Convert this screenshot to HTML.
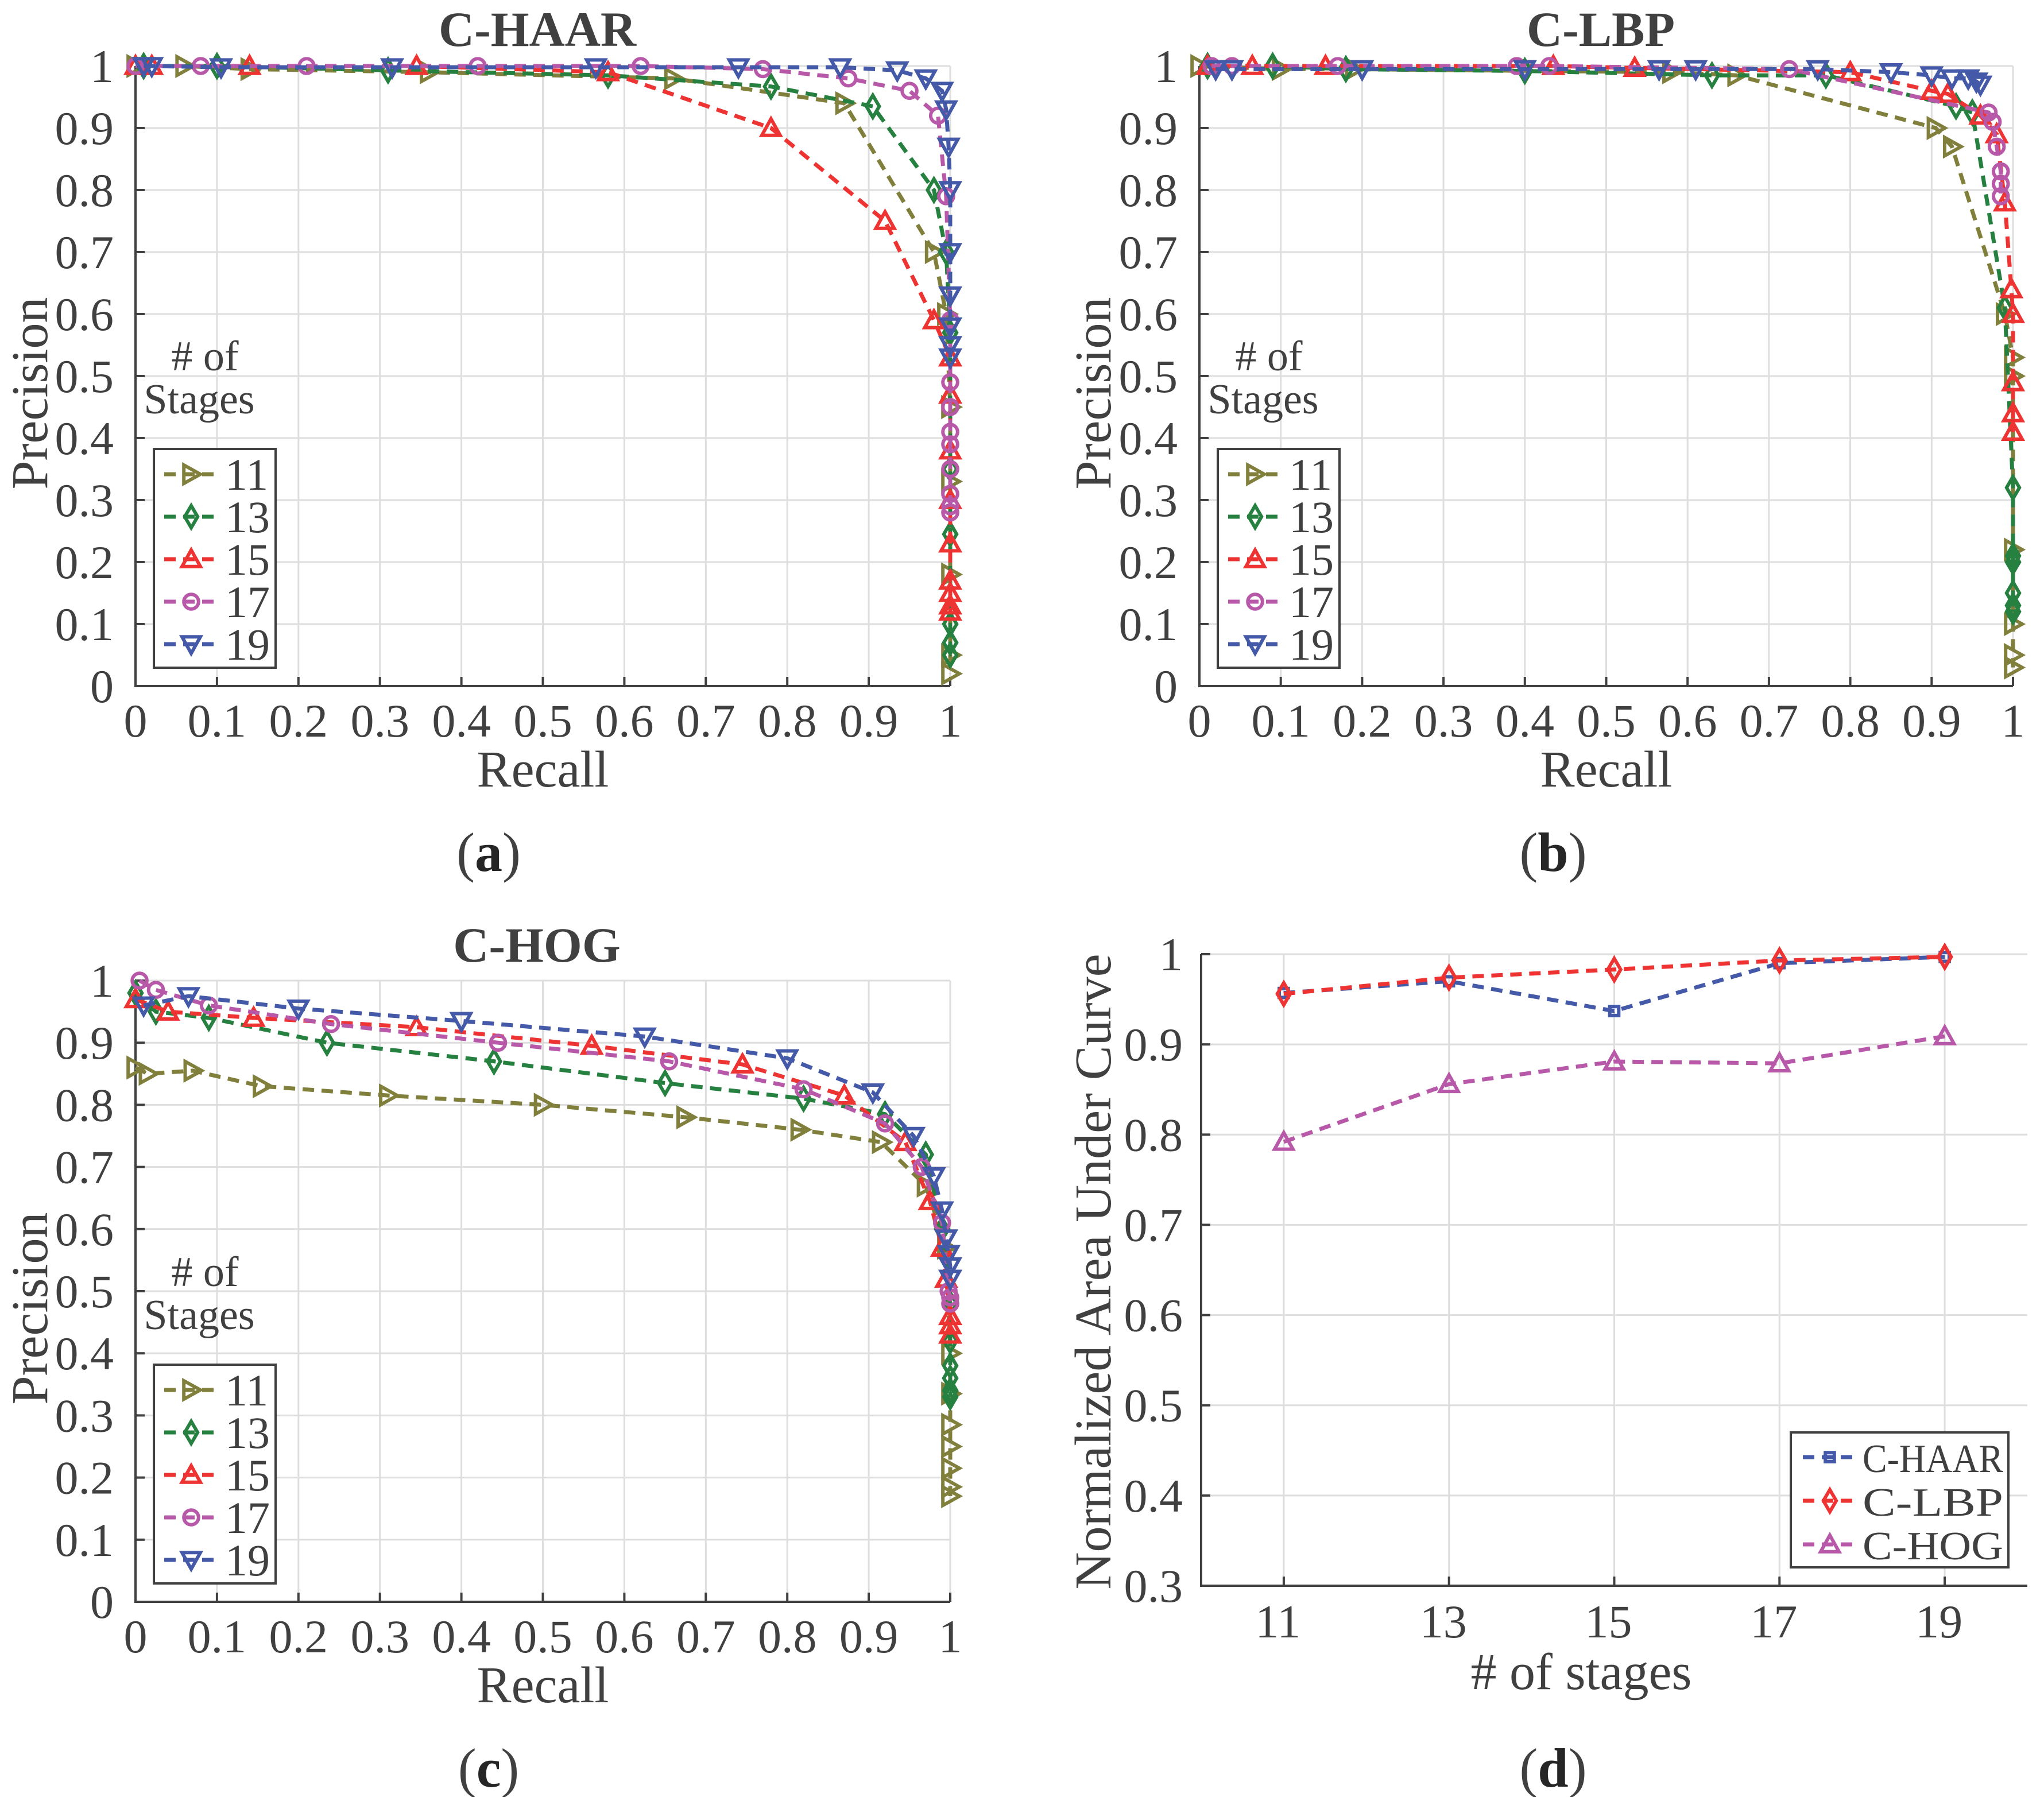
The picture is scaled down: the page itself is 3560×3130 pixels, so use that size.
<!DOCTYPE html>
<html><head><meta charset="utf-8"><style>
html,body{margin:0;padding:0;background:#fff}
svg{display:block;font-family:"Liberation Serif","Noto Serif CJK SC",serif}
svg text{font-family:"Liberation Serif","Noto Serif CJK SC",serif;fill:#404040}
</style></head><body>
<svg id="fig" xmlns="http://www.w3.org/2000/svg" width="3560" height="3130" viewBox="0 0 3560 3130"></svg>
<script>
// ---------- data ----------
const seriesNames = ["11","13","15","17","19"];
const haar11 = [[0,1],[0.06,1],[0.14,0.995],[0.36,0.99],[0.66,0.98],[0.87,0.94],[0.98,0.70],[0.995,0.6],[1,0.45],[1,0.33],[1,0.18],[1,0.05],[1,0.02]];
const haar13 = [[0.01,1],[0.1,1],[0.31,0.993],[0.58,0.985],[0.78,0.967],[0.905,0.935],[0.98,0.80],[0.995,0.70],[1,0.57],[1,0.35],[1,0.245],[1,0.1],[1,0.07],[1,0.05]];
const haar15 = [[0,1],[0.02,1],[0.14,1],[0.345,1],[0.58,0.99],[0.78,0.90],[0.92,0.75],[0.98,0.59],[1,0.53],[1,0.47],[1,0.38],[1,0.3],[1,0.23],[1,0.17],[1,0.15],[1,0.13],[1,0.12]];
const haar17 = [[0,1],[0.08,1],[0.21,1],[0.42,1],[0.62,1],[0.77,0.995],[0.875,0.98],[0.95,0.96],[0.985,0.92],[0.995,0.79],[1,0.59],[1,0.49],[1,0.45],[1,0.41],[1,0.39],[1,0.35],[1,0.31],[1,0.29],[1,0.28]];
const haar19 = [[0.01,1],[0.02,1],[0.105,0.998],[0.315,0.998],[0.565,0.998],[0.74,0.998],[0.865,0.998],[0.935,0.993],[0.97,0.98],[0.99,0.96],[0.995,0.93],[0.998,0.87],[1,0.80],[1,0.70],[1,0.63],[1,0.58],[1,0.55],[1,0.53]];
const lbp11 = [[0,1],[0.1,0.995],[0.19,0.995],[0.58,0.99],[0.66,0.985],[0.905,0.90],[0.925,0.87],[0.99,0.6],[1,0.53],[1,0.5],[1,0.22],[1,0.1],[1,0.05],[1,0.03]];
const lbp13 = [[0.01,1],[0.09,1],[0.18,0.995],[0.4,0.992],[0.63,0.985],[0.77,0.985],[0.93,0.935],[0.95,0.925],[0.99,0.61],[1,0.32],[1,0.21],[1,0.2],[1,0.15],[1,0.13],[1,0.12]];
const lbp15 = [[0.01,1],[0.065,1],[0.155,1],[0.435,1],[0.535,0.997],[0.8,0.99],[0.9,0.96],[0.92,0.955],[0.96,0.92],[0.98,0.89],[0.99,0.78],[0.998,0.64],[1,0.6],[1,0.49],[1,0.44],[1,0.41]];
const lbp17 = [[0.015,1],[0.04,1],[0.17,1],[0.39,1],[0.43,1],[0.725,0.995],[0.97,0.925],[0.975,0.91],[0.98,0.87],[0.985,0.83],[0.985,0.81],[0.985,0.79]];
const lbp19 = [[0.02,0.995],[0.04,0.995],[0.2,0.995],[0.4,0.995],[0.565,0.995],[0.61,0.995],[0.76,0.995],[0.85,0.99],[0.9,0.985],[0.925,0.98],[0.945,0.98],[0.955,0.975],[0.96,0.97]];
const hog11 = [[0,0.86],[0.015,0.85],[0.07,0.855],[0.155,0.83],[0.31,0.815],[0.5,0.80],[0.675,0.78],[0.815,0.76],[0.915,0.74],[0.97,0.67],[0.995,0.57],[1,0.40],[1,0.335],[1,0.285],[1,0.25],[1,0.215],[1,0.185],[1,0.17]];
const hog13 = [[0,0.98],[0.025,0.95],[0.09,0.94],[0.235,0.90],[0.44,0.87],[0.65,0.835],[0.82,0.81],[0.92,0.785],[0.97,0.72],[0.99,0.6],[1,0.48],[1,0.42],[1,0.38],[1,0.36],[1,0.34],[1,0.33]];
const hog15 = [[0,0.97],[0.04,0.95],[0.145,0.94],[0.345,0.925],[0.56,0.895],[0.745,0.865],[0.87,0.815],[0.945,0.74],[0.975,0.645],[0.99,0.57],[0.995,0.52],[1,0.46],[1,0.445],[1,0.43]];
const hog17 = [[0.005,1],[0.025,0.985],[0.09,0.96],[0.24,0.93],[0.445,0.90],[0.655,0.87],[0.82,0.825],[0.92,0.77],[0.965,0.70],[0.99,0.61],[0.998,0.5],[1,0.49],[1,0.48]];
const hog19 = [[0.01,0.96],[0.065,0.975],[0.2,0.955],[0.4,0.935],[0.625,0.91],[0.8,0.875],[0.905,0.82],[0.955,0.75],[0.98,0.685],[0.99,0.63],[0.995,0.585],[0.998,0.56],[1,0.54],[1,0.52]];
const aucStages = [11,13,15,17,19];
const aucHaar = [0.957,0.970,0.937,0.990,0.997];
const aucLbp = [0.956,0.974,0.983,0.993,0.997];
const aucHog = [0.792,0.856,0.881,0.879,0.909];
const prTicks = ["0","0.1","0.2","0.3","0.4","0.5","0.6","0.7","0.8","0.9","1"];
const aucYTicks = ["0.3","0.4","0.5","0.6","0.7","0.8","0.9","1"];

// ---------- helpers ----------
const NS="http://www.w3.org/2000/svg";
const FONT='"Liberation Serif", "Noto Serif CJK SC", serif';
const svg=document.getElementById('fig');
const colors=["#80803c","#268040","#ee3333","#b858a8","#4459a8"];
const markers=["right","diamond","up","circle","down"];
function mk(tag,attrs,parent){const e=document.createElementNS(NS,tag);for(const k in attrs)e.setAttribute(k,attrs[k]);(parent||svg).appendChild(e);return e;}
function txt(s,x,y,size,anchor,parent,extra){const t=mk('text',Object.assign({x:x,y:y,'font-size':size,'text-anchor':anchor||'middle','font-family':FONT,fill:'#404040'},extra||{}),parent);t.textContent=s;return t;}
function marker(type,x,y,color,parent,r){
  r=r||16;let e;
  const a={fill:'none',stroke:color,'stroke-width':6};
  if(type==='circle'){e=mk('circle',Object.assign({cx:x,cy:y,r:r*0.8},a),parent);}
  else if(type==='square'){e=mk('rect',Object.assign({x:x-r*0.6,y:y-r*0.6,width:r*1.2,height:r*1.2},a),parent);}
  else{let p;
    if(type==='right')p=[[x-r*0.8,y-r],[x+r,y],[x-r*0.8,y+r]];
    if(type==='up')p=[[x-r,y+r*0.8],[x,y-r],[x+r,y+r*0.8]];
    if(type==='down')p=[[x-r,y-r*0.8],[x,y+r],[x+r,y-r*0.8]];
    if(type==='diamond')p=[[x,y-r*1.2],[x+r*0.7,y],[x,y+r*1.2],[x-r*0.7,y]];
    e=mk('polygon',Object.assign({points:p.map(q=>q.join(',')).join(' ')},a),parent);}
  
  
  return e;
}

function prPanel(opt){
  const g=mk('g',{});
  
  
  const X=v=>opt.x0+(opt.x1-opt.x0)*v, Y=v=>opt.y0+(opt.y1-opt.y0)*v;
  for(let i=0;i<=10;i++){
    const gx=mk('line',{x1:X(i/10),x2:X(i/10),y1:Y(0),y2:Y(1),stroke:'#dedede','stroke-width':3},g);
    
    const gy=mk('line',{x1:X(0),x2:X(1),y1:Y(i/10),y2:Y(i/10),stroke:'#dedede','stroke-width':3},g);
    
  }
  const ax=mk('path',{d:`M${X(0)},${Y(1)}V${Y(0)}H${X(1)}`,fill:'none',stroke:'#404040','stroke-width':4},g);
  
  for(let i=0;i<=10;i++){
    mk('line',{x1:X(i/10),x2:X(i/10),y1:Y(0),y2:Y(0)-16,stroke:'#404040','stroke-width':4},g);
    mk('line',{x1:X(0),x2:X(0)+16,y1:Y(i/10),y2:Y(i/10),stroke:'#404040','stroke-width':4},g);
    const tx=txt(prTicks[i],X(i/10),Y(0)+88,82,'middle',g);
    
    const ty=txt(prTicks[i],X(0)-38,Y(i/10)+28,82,'end',g);
    
  }
  opt.data.forEach((d,si)=>{
    const sg=mk('g',{},g);
    
    
    const ln=mk('polyline',{points:d.map(p=>X(p[0])+','+Y(p[1])).join(' '),fill:'none',stroke:colors[si],'stroke-width':7,'stroke-dasharray':'20,13'},sg);
    
    d.forEach(p=>marker(markers[si],X(p[0]),Y(p[1]),colors[si],sg));
  });
  const t=txt(opt.title,opt.titleX,opt.titleY,86,'middle',g,{'font-weight':'bold',fill:'#262626'});
  
  const xl=txt('Recall',(X(0)+X(1))/2,Y(0)+175,90,'middle',g);
  
  const yl=txt('Precision',0,0,90,'middle',g,{transform:`translate(${opt.yLabelX},${(Y(0)+Y(1))/2+30}) rotate(-90)`});
  
  const pl=txt('',opt.subX,opt.subY,96,'middle',g);
  
  pl.innerHTML='(<tspan font-weight="bold" fill="#262626">'+opt.sub+'</tspan>)';
  const lx=X(0)+32, ly=Y(0)-413;
  const lg=mk('g',{},g);
  
  const h1=txt('# of',lx+89,ly-137,74,'middle',lg);
  const h2=txt('Stages',lx+79,ly-62,74,'middle',lg);
  mk('rect',{x:lx,y:ly,width:212,height:381,fill:'#fff',stroke:'#404040','stroke-width':4},lg);
  seriesNames.forEach((s,i)=>{
    const yy=ly+44+i*74;
    const e=mk('g',{},lg);
    
    mk('line',{x1:lx+18,x2:lx+112,y1:yy,y2:yy,stroke:colors[i],'stroke-width':7,'stroke-dasharray':'20,13'},e);
    marker(markers[i],lx+65,yy,colors[i],e);
    txt(s,lx+124,yy+27,78,'start',e);
  });
}

prPanel({name:'panel-a-c-haar',x0:236,x1:1655,y0:1195,y1:115,data:[haar11,haar13,haar15,haar17,haar19],title:'C-HAAR',titleX:936,titleY:80,yLabelX:82,sub:'a',subX:851,subY:1517});
prPanel({name:'panel-b-c-lbp',x0:2089,x1:3506,y0:1195,y1:115,data:[lbp11,lbp13,lbp15,lbp17,lbp19],title:'C-LBP',titleX:2788,titleY:80,yLabelX:1934,sub:'b',subX:2705,subY:1517});
prPanel({name:'panel-c-c-hog',x0:236,x1:1655,y0:2790,y1:1708,data:[hog11,hog13,hog15,hog17,hog19],title:'C-HOG',titleX:935,titleY:1675,yLabelX:82,sub:'c',subX:851,subY:3112});

// ---------- panel d ----------
(function(){
  const g=mk('g',{});
  
  const x0=2092,x1=3531,y0=2762,y1=1662;
  const X=v=>x0+(v-10)/10*(x1-x0), Y=v=>y0+(v-0.3)/0.7*(y1-y0);
  aucStages.forEach(s=>{const l=mk('line',{x1:X(s),x2:X(s),y1:y0,y2:y1,stroke:'#dedede','stroke-width':3},g);});
  aucYTicks.forEach(t=>{const v=parseFloat(t);const l=mk('line',{x1:x0,x2:x1,y1:Y(v),y2:Y(v),stroke:'#dedede','stroke-width':3},g);});
  const ax=mk('path',{d:`M${x0},${y1}V${y0}H${x1}`,fill:'none',stroke:'#404040','stroke-width':4},g);
  
  aucStages.forEach(s=>{mk('line',{x1:X(s),x2:X(s),y1:y0,y2:y0-16,stroke:'#404040','stroke-width':4},g);
    const t=txt(String(s),X(s)-10,y0+90,82,'middle',g);});
  aucYTicks.forEach(t=>{const v=parseFloat(t);mk('line',{x1:x0,x2:x0+16,y1:Y(v),y2:Y(v),stroke:'#404040','stroke-width':4},g);
    const e=txt(t,x0-32,Y(v)+28,82,'end',g);});
  const sets=[[aucHaar,'#4459a8','square','C-HAAR'],[aucLbp,'#ee3333','diamond','C-LBP'],[aucHog,'#b858a8','up','C-HOG']];
  sets.forEach(([d,c,m,n])=>{
    const sg=mk('g',{},g);
    
    mk('polyline',{points:d.map((v,i)=>X(aucStages[i])+','+Y(v)).join(' '),fill:'none',stroke:c,'stroke-width':7,'stroke-dasharray':'20,13'},sg);
    d.forEach((v,i)=>marker(m,X(aucStages[i]),Y(v),c,sg,m==='square'?13:16));
  });
  const xl=txt('# of stages',2754,2942,90,'middle',g);
  const yl=txt('Normalized Area Under Curve',0,0,90,'middle',g,{transform:'translate(1934,2215) rotate(-90)'});
  
  const pl=txt('',2705,3112,96,'middle',g);
  pl.innerHTML='(<tspan font-weight="bold" fill="#262626">d</tspan>)';
  const lg=mk('g',{},g);
  mk('rect',{x:3119,y:2495,width:379,height:235,fill:'#fff',stroke:'#404040','stroke-width':4},lg);
  sets.forEach(([d,c,m,n],i)=>{
    const yy=2538+i*76;
    const e=mk('g',{},lg);
    mk('line',{x1:3140,x2:3233,y1:yy,y2:yy,stroke:c,'stroke-width':7,'stroke-dasharray':'20,13'},e);
    marker(m,3187,yy,c,e,m==='square'?13:16);
    txt(n,3244,yy+26,70,'start',e,{textLength:245,lengthAdjust:'spacingAndGlyphs'});
  });
})();
</script>
</body></html>
